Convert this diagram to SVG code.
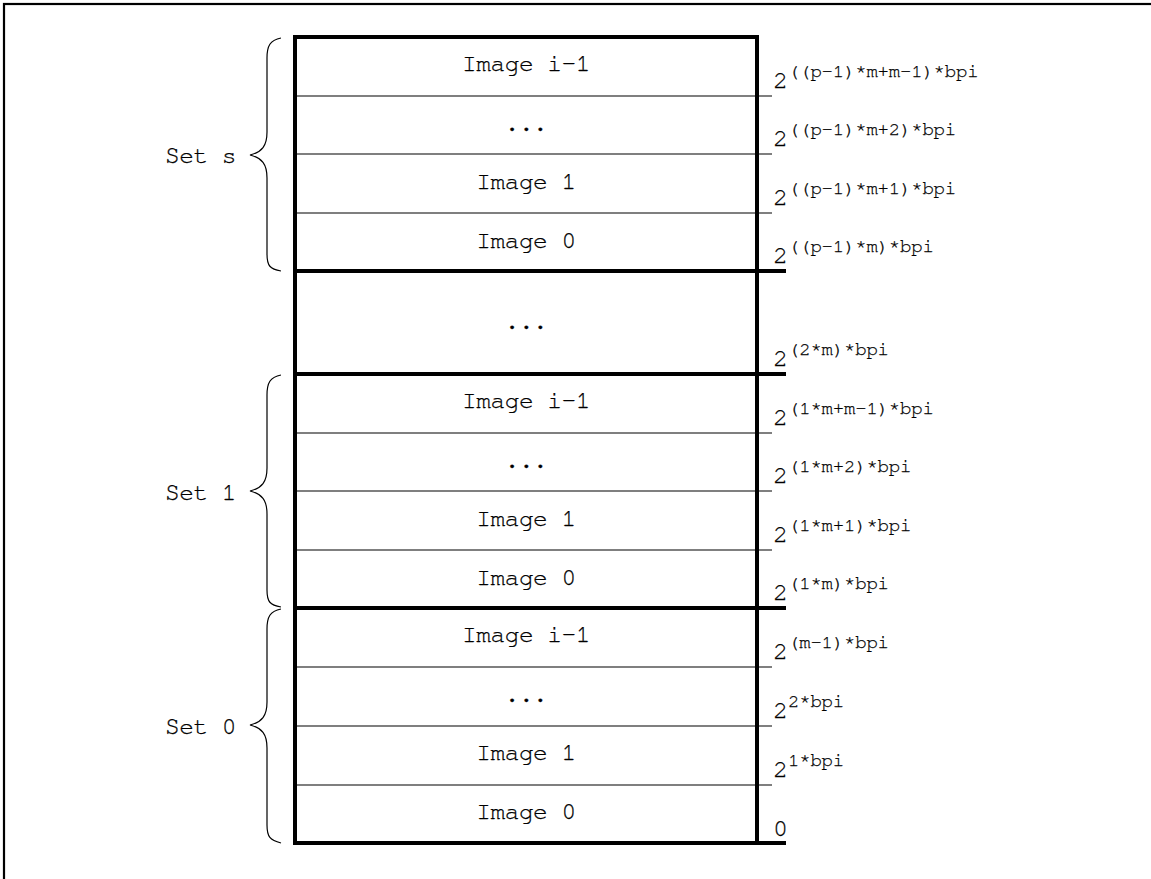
<svg xmlns="http://www.w3.org/2000/svg" width="1151" height="879" viewBox="0 0 1151 879">
<style>
text{font-family:"Nimbus Mono PS","FreeMono","Courier New","Liberation Mono",monospace;fill:#000;stroke:#000;stroke-width:0.25}
.lbl{font-size:24.5px;text-anchor:middle;letter-spacing:-0.5px}
.set{font-size:24.5px;letter-spacing:-0.5px}
.addr{font-size:25px}
.sup{font-size:19px;letter-spacing:-0.2px}
.thin{stroke:#000;stroke-width:1.2;fill:none}
.thick{stroke:#000;stroke-width:4;fill:none}
.brace{stroke:#000;stroke-width:1.2;fill:none}
</style>
<rect width="1151" height="879" fill="#fff"/>
<rect x="4" y="4" width="1200" height="900" fill="none" stroke="#000" stroke-width="2.2"/>
<g id="connectors">
<line class="thin" x1="295" y1="96" x2="772" y2="96"/>
<line class="thin" x1="295" y1="154" x2="772" y2="154"/>
<line class="thin" x1="295" y1="213" x2="772" y2="213"/>
<line class="thick" x1="295" y1="271" x2="786" y2="271"/>
<line class="thick" x1="295" y1="374" x2="786" y2="374"/>
<line class="thin" x1="295" y1="433" x2="772" y2="433"/>
<line class="thin" x1="295" y1="491" x2="772" y2="491"/>
<line class="thin" x1="295" y1="550" x2="772" y2="550"/>
<line class="thick" x1="295" y1="608" x2="786" y2="608"/>
<line class="thin" x1="295" y1="667" x2="772" y2="667"/>
<line class="thin" x1="295" y1="726" x2="772" y2="726"/>
<line class="thin" x1="295" y1="785" x2="772" y2="785"/>
<line class="thick" x1="295" y1="843" x2="786" y2="843"/>
<line class="thick" x1="295" y1="37" x2="757" y2="37"/>
<line class="thick" x1="295" y1="35" x2="295" y2="845"/>
<line class="thick" x1="757" y1="35" x2="757" y2="845"/>
</g>
<g id="rows-set-s">
<text class="lbl" x="526" y="71">Image i–1</text>
<text class="lbl" x="526" y="131">...</text>
<text class="lbl" x="526" y="189">Image 1</text>
<text class="lbl" x="526" y="248">Image 0</text>
</g>
<g id="row-gap">
<text class="lbl" x="526" y="329">...</text>
</g>
<g id="rows-set-1">
<text class="lbl" x="526" y="408">Image i–1</text>
<text class="lbl" x="526" y="468">...</text>
<text class="lbl" x="526" y="526">Image 1</text>
<text class="lbl" x="526" y="585">Image 0</text>
</g>
<g id="rows-set-0">
<text class="lbl" x="526" y="642">Image i–1</text>
<text class="lbl" x="526" y="702">...</text>
<text class="lbl" x="526" y="760">Image 1</text>
<text class="lbl" x="526" y="819">Image 0</text>
</g>
<g id="brace-set-s">
<path class="brace" d="M281,38 C270,40 267,46 267,58 L267,132 C267,146 262,152 250,155 C262,158 267,164 267,178 L267,254 C267,266 270,269 281,271"/>
<text class="set" x="165" y="163">Set s</text>
</g>
<g id="brace-set-1">
<path class="brace" d="M281,375 C270,377 267,383 267,395 L267,468 C267,482 262,488 250,491 C262,494 267,500 267,514 L267,590 C267,602 270,605 281,607"/>
<text class="set" x="165" y="500">Set 1</text>
</g>
<g id="brace-set-0">
<path class="brace" d="M281,609 C270,611 267,617 267,629 L267,702 C267,716 262,722 250,725 C262,728 267,734 267,748 L267,825 C267,837 270,840 281,843"/>
<text class="set" x="165" y="734">Set 0</text>
</g>
<g id="addresses">
<text class="addr" x="773" y="88">2<tspan class="sup" dy="-11">((p-1)*m+m-1)*bpi</tspan></text>
<text class="addr" x="773" y="146">2<tspan class="sup" dy="-11">((p-1)*m+2)*bpi</tspan></text>
<text class="addr" x="773" y="205">2<tspan class="sup" dy="-11">((p-1)*m+1)*bpi</tspan></text>
<text class="addr" x="773" y="263">2<tspan class="sup" dy="-11">((p-1)*m)*bpi</tspan></text>
<text class="addr" x="773" y="366">2<tspan class="sup" dy="-11">(2*m)*bpi</tspan></text>
<text class="addr" x="773" y="425">2<tspan class="sup" dy="-11">(1*m+m-1)*bpi</tspan></text>
<text class="addr" x="773" y="483">2<tspan class="sup" dy="-11">(1*m+2)*bpi</tspan></text>
<text class="addr" x="773" y="542">2<tspan class="sup" dy="-11">(1*m+1)*bpi</tspan></text>
<text class="addr" x="773" y="600">2<tspan class="sup" dy="-11">(1*m)*bpi</tspan></text>
<text class="addr" x="773" y="659">2<tspan class="sup" dy="-11">(m-1)*bpi</tspan></text>
<text class="addr" x="773" y="718">2<tspan class="sup" dy="-11">2*bpi</tspan></text>
<text class="addr" x="773" y="777">2<tspan class="sup" dy="-11">1*bpi</tspan></text>
<text class="addr" x="773" y="836">0</text>
</g>
</svg>
